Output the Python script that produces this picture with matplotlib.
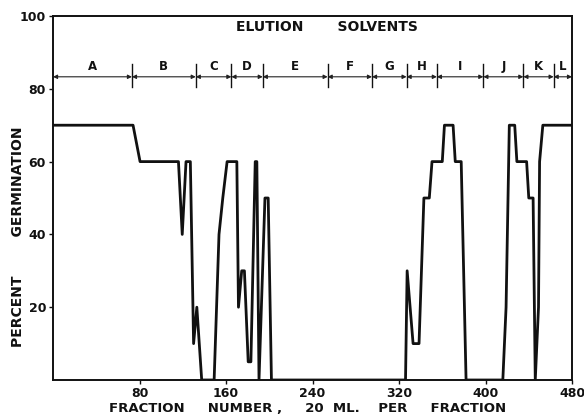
import matplotlib
matplotlib.use("Agg")
import matplotlib.pyplot as plt

# curva de germinacao
fraction = [0, 74, 80.5, 116, 119.5, 123, 127, 130, 133, 137.5,
            149, 153.5, 157, 161, 170, 171.5, 174.5, 177, 180.5, 183,
            187, 188.5, 190.5, 196, 199, 202, 326, 327.5, 333, 338.5,
            343, 348, 350.5, 360, 362, 370, 372, 377.5, 382, 416,
            419, 422, 427, 429, 438, 440, 444, 446, 449, 450,
            453, 480]
germination = [70, 70, 60, 60, 40, 60, 60, 10, 20, 0,
               0, 40, 50, 60, 60, 20, 30, 30, 5, 5,
               60, 60, 0, 50, 50, 0, 0, 30, 10, 10,
               50, 50, 60, 60, 70, 70, 60, 60, 0, 0,
               20, 70, 70, 60, 60, 50, 50, 0, 20, 60,
               70, 70]

# solventes de eluicao
solvent_labels = ["A", "B", "C", "D", "E", "F", "G", "H", "I", "J", "K", "L"]
solvent_bounds = [0, 73, 132, 165, 194, 254, 295, 327, 355, 398, 435, 463, 480]

x_ticks = [80, 160, 240, 320, 400, 480]
y_ticks = [20, 40, 60, 80, 100]

fig = plt.figure(figsize=(5.84, 4.18), dpi=100)
ax = fig.add_axes([0.0908, 0.0909, 0.8887, 0.8708])

ax.plot(fraction, germination, color="#111111", linewidth=2.0)

# faixas dos solventes
arrow_y = 83.3
for i, lab in enumerate(solvent_labels):
    a = solvent_bounds[i]
    b = solvent_bounds[i + 1]
    ax.annotate("", xy=(a, arrow_y), xytext=(b, arrow_y),
                arrowprops=dict(arrowstyle="<|-|>", color="#222222", lw=0.8,
                                mutation_scale=6, shrinkA=0, shrinkB=0))
    ax.text((a + b) / 2, 86.2, lab, ha="center", va="center", fontsize=8.5,
            fontweight="bold", color="#111111")
for b in solvent_bounds[1:-1]:
    ax.plot([b, b], [80.5, 86.8], color="#111111", linewidth=1.0)

ax.text(253, 97, "ELUTION       SOLVENTS", ha="center", va="center",
        fontsize=10, fontweight="bold", color="#111111")

ax.set_xlim(0, 480)
ax.set_ylim(0, 100)
ax.set_xticks(x_ticks)
ax.set_yticks(y_ticks)
ax.tick_params(direction="out", length=3, width=1.0, labelsize=9,
               colors="#111111", pad=2)
for t in ax.get_xticklabels() + ax.get_yticklabels():
    t.set_fontweight("bold")
for s in ax.spines.values():
    s.set_linewidth(1.4)
    s.set_color("#111111")

fig.text(0.527, 0.022, "FRACTION     NUMBER ,     20  ML.    PER     FRACTION",
         ha="center", va="center", fontsize=9.5, fontweight="bold",
         color="#111111")
fig.text(0.031, 0.433, "PERCENT        GERMINATION", rotation=90,
         ha="center", va="center", fontsize=10, fontweight="bold",
         color="#111111")

fig.savefig("out.png", dpi=100)
